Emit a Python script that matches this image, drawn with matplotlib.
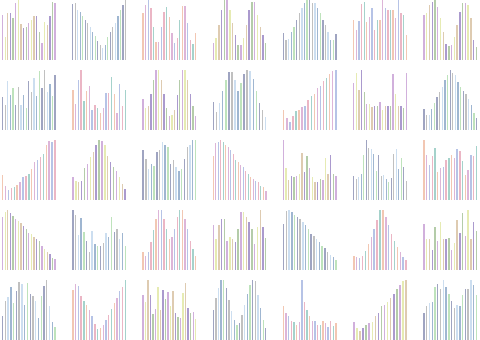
import matplotlib
matplotlib.use("Agg")
import matplotlib.pyplot as plt

# bar heights of each small panel, read row by row (r = row, c = column)
r1c1 = [135, 70, 140, 142, 125, 170, 180, 108, 95, 98, 110, 120, 132, 132, 85, 52, 115, 105, 132, 175, 170]
r1c2 = [168, 172, 150, 145, 132, 120, 112, 100, 85, 72, 58, 45, 35, 45, 68, 85, 100, 112, 132, 150, 165, 180]
r1c3 = [140, 165, 180, 155, 100, 55, 55, 98, 145, 160, 130, 80, 50, 65, 120, 162, 162, 112, 60, 48, 80]
r1c4 = [50, 65, 105, 150, 180, 180, 150, 110, 75, 45, 45, 65, 105, 150, 175, 175, 135, 100, 75, 50]
r1c5 = [80, 58, 63, 83, 98, 118, 138, 153, 170, 178, 178, 170, 170, 153, 138, 118, 103, 83, 60, 58, 78]
r1c6 = [120, 90, 116, 166, 173, 113, 128, 153, 90, 118, 118, 178, 153, 148, 148, 148, 123, 178, 140, 133, 73]
r1c7 = [133, 140, 163, 173, 178, 158, 123, 83, 48, 40, 43, 68, 103, 143, 170, 168, 163, 123, 58, 38]

r2c1 = [90, 70, 136, 96, 116, 70, 118, 70, 96, 60, 136, 106, 143, 93, 163, 116, 166, 106, 128, 93, 153]
r2c2 = [116, 76, 143, 173, 83, 113, 126, 58, 73, 63, 48, 63, 108, 108, 153, 103, 48, 133, 70, 116]
r2c3 = [90, 63, 70, 103, 143, 173, 173, 143, 103, 63, 40, 43, 58, 100, 143, 173, 173, 143, 103, 70, 40]
r2c4 = [83, 53, 80, 116, 148, 173, 173, 148, 115, 140, 165, 178, 175, 150, 116, 80, 58, 38]
r2c5 = [60, 35, 22, 40, 55, 60, 68, 72, 90, 100, 108, 125, 130, 145, 155, 165, 175, 178]
r2c6 = [116, 140, 98, 148, 93, 63, 63, 56, 58, 60, 68, 50, 60, 58, 58, 138, 88, 60, 60, 53, 140]
r2c7 = [62, 45, 45, 60, 78, 95, 110, 125, 145, 160, 175, 165, 160, 140, 125, 115, 105, 90, 72, 50, 35]

r3c1 = [74, 42, 30, 34, 37, 44, 52, 67, 70, 77, 92, 112, 117, 127, 137, 162, 174, 170, 177]
r3c2 = [67, 57, 52, 57, 94, 107, 127, 142, 162, 177, 174, 162, 130, 112, 97, 87, 67, 47, 32]
r3c3 = [147, 122, 92, 107, 100, 142, 147, 172, 162, 157, 107, 117, 97, 87, 92, 122, 157, 162, 177, 177]
r3c4 = [130, 167, 172, 177, 172, 162, 157, 147, 137, 117, 112, 102, 97, 87, 77, 67, 62, 57, 52, 42, 37, 27]
r3c5 = [174, 92, 57, 70, 67, 70, 74, 137, 82, 127, 92, 67, 52, 52, 62, 57, 122, 74, 132, 74, 70]
r3c6 = [70, 62, 67, 77, 132, 177, 154, 150, 137, 87, 132, 72, 74, 62, 52, 64, 137, 152, 92, 124, 97, 57]
r3c7 = [174, 132, 102, 127, 152, 82, 92, 97, 117, 122, 132, 122, 147, 142, 112, 72, 87, 132, 127, 157]

r4c1 = [160, 174, 180, 172, 162, 154, 147, 140, 132, 122, 112, 107, 100, 94, 87, 72, 62, 54, 47, 37, 32]
r4c2 = [177, 162, 104, 154, 112, 87, 54, 114, 77, 72, 72, 80, 110, 97, 157, 112, 120, 92, 110, 70]
r4c3 = [54, 42, 54, 82, 117, 152, 177, 177, 152, 122, 92, 97, 122, 157, 177, 177, 152, 122, 87, 62, 42]
r4c4 = [132, 92, 134, 152, 152, 87, 97, 92, 82, 122, 170, 170, 157, 142, 122, 77, 127, 177, 127, 94]
r4c5 = [137, 174, 177, 172, 164, 157, 152, 142, 132, 120, 107, 100, 92, 82, 72, 64, 52, 44, 37, 30]
r4c6 = [42, 37, 34, 42, 57, 77, 97, 122, 147, 177, 177, 157, 132, 107, 87, 67, 52, 37, 30]
r4c7 = [125, 85, 85, 55, 117, 80, 130, 85, 85, 87, 55, 73, 137, 100, 155, 93, 163, 85, 130, 105]

r5c1 = [70, 115, 128, 158, 110, 145, 172, 168, 105, 170, 138, 132, 115, 65, 130, 160, 178, 100, 55, 40]
r5c2 = [148, 168, 160, 132, 115, 105, 90, 70, 48, 32, 35, 45, 60, 75, 92, 110, 125, 145, 158, 178]
r5c3 = [118, 100, 158, 118, 68, 82, 140, 80, 132, 108, 128, 90, 130, 70, 60, 58, 125, 150, 85, 72, 75, 55]
r5c4 = [90, 125, 155, 178, 178, 155, 118, 85, 60, 45, 50, 75, 105, 138, 165, 178, 175, 135, 95, 60, 35]
r5c5 = [80, 62, 55, 45, 42, 35, 42, 140, 90, 70, 55, 45, 45, 35, 35, 45, 40, 30, 45, 32, 40]
r5c6 = [55, 35, 28, 35, 45, 50, 55, 70, 80, 100, 105, 112, 125, 138, 152, 165, 175, 178]
r5c7 = [80, 100, 108, 112, 155, 165, 150, 175, 155, 135, 115, 95, 102, 100, 132, 150, 150, 175, 160, 132]

rows = [
    [r1c1, r1c2, r1c3, r1c4, r1c5, r1c6, r1c7],
    [r2c1, r2c2, r2c3, r2c4, r2c5, r2c6, r2c7],
    [r3c1, r3c2, r3c3, r3c4, r3c5, r3c6, r3c7],
    [r4c1, r4c2, r4c3, r4c4, r4c5, r4c6, r4c7],
    [r5c1, r5c2, r5c3, r5c4, r5c5, r5c6, r5c7],
]

palette = ['#c9a3d6', '#a9b9e2', '#b3dfb1', '#e2e8a6', '#e8a9bb', '#8e94b6',
           '#d9c2a4', '#96cac2', '#b5b5b5', '#9d88c6', '#f0bda6', '#c4d9ee',
           '#a7c49a', '#d7a8d2', '#8ea9c9']

fig, axes = plt.subplots(5, 7, figsize=(4.8, 3.4), dpi=100)
plt.subplots_adjust(left=0.002, right=0.996, bottom=0.0, top=1.0, wspace=0.26, hspace=0.17)

for i, row in enumerate(rows):
    for j, vals in enumerate(row):
        ax = axes[i, j]
        n = len(vals)
        k = 7 * i + j
        cols = [palette[(k * 5 + 3 * m) % len(palette)] for m in range(n)]
        ax.bar(range(n), vals, width=0.5, color=cols, linewidth=0, alpha=0.85)
        ax.set_xlim(-0.6, n - 0.4)
        ax.set_ylim(0, max(vals))
        ax.axis('off')

fig.savefig('out.png', dpi=100)
